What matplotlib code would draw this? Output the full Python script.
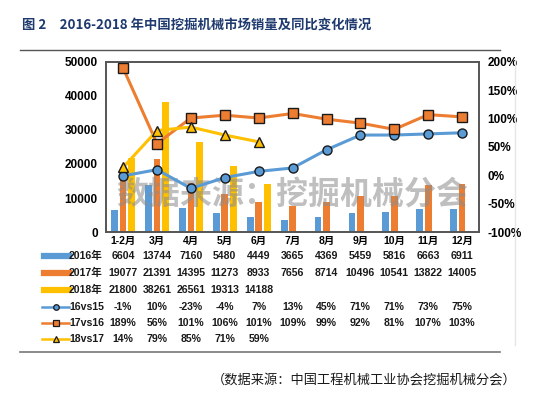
import matplotlib.pyplot as plt
from matplotlib.lines import Line2D
import numpy as np

plt.rcParams['font.family'] = ['Noto Sans CJK SC', 'DejaVu Sans']
num_font = ['Liberation Sans', 'Noto Sans CJK SC']

months = ['1-2月', '3月', '4月', '5月', '6月', '7月', '8月', '9月', '10月', '11月', '12月']
sales_2016 = [6604, 13744, 7160, 5480, 4449, 3665, 4369, 5459, 5816, 6663, 6911]
sales_2017 = [19077, 21391, 14395, 11273, 8933, 7656, 8714, 10496, 10541, 13822, 14005]
sales_2018 = [21800, 38261, 26561, 19313, 14188]
yoy_16vs15 = [-1, 10, -23, -4, 7, 13, 45, 71, 71, 73, 75]
yoy_17vs16 = [189, 56, 101, 106, 101, 109, 99, 92, 81, 107, 103]
yoy_18vs17 = [14, 79, 85, 71, 59]

c16 = '#5B9BD5'
c17 = '#ED7D31'
c18 = '#FFC000'

fig = plt.figure(figsize=(5.5, 3.94), dpi=100)
ax = fig.add_axes([0.193, 0.411, 0.678, 0.432])
ax2 = ax.twinx()

x = np.arange(len(months))
w = 0.2
ax.bar(x - 0.25, sales_2016, w, color=c16, zorder=1)
ax.bar(x, sales_2017, w, color=c17, zorder=1)
ax.bar(np.arange(len(sales_2018)) + 0.25, sales_2018, w, color=c18, zorder=1)
ax.set_ylim(0, 50000)
ax.set_yticks(range(0, 50001, 10000))
ax.set_yticklabels([str(v) for v in range(0, 50001, 10000)], fontsize=8.5, fontweight='bold', family=num_font)
ax.set_xlim(-0.5, len(months) - 0.5)
ax.set_xticks(x)
ax.set_xticklabels(months, fontsize=7.5, fontweight='bold', family=num_font)
ax.tick_params(length=0)
ax.tick_params(axis='y', pad=6)
ax.tick_params(axis='x', pad=3)

ax2.plot(x, yoy_16vs15, color=c16, lw=2.2, marker='o', ms=6.5, mfc=c16, mec='#1a1a1a', mew=1, zorder=5)
ax2.plot(x, yoy_17vs16, color=c17, lw=2.2, marker='s', ms=6.5, mfc=c17, mec='#1a1a1a', mew=1, zorder=5)
ax2.plot(np.arange(len(yoy_18vs17)), yoy_18vs17, color=c18, lw=2.2, marker='^', ms=6.5, mfc=c18, mec='#1a1a1a', mew=1, zorder=5)
ax2.set_ylim(-100, 200)
ax2.set_yticks(range(-100, 201, 50))
ax2.set_yticklabels([f'{v}%' for v in range(-100, 201, 50)], fontsize=8.5, fontweight='bold', family=num_font)
ax2.tick_params(length=0, pad=6)

for a in (ax, ax2):
    for s in a.spines.values():
        s.set_color('#555555')
        s.set_linewidth(1.2)

# watermark
ax2.text(0.5, 0.22, '数据来源：挖掘机械分会', transform=ax2.transAxes, ha='center', va='center',
         fontsize=23, fontweight='bold', color='#8c8c8c', alpha=0.55, zorder=3)

# data table
trans = ax.get_xaxis_transform()
rows = [
    ('2016年', sales_2016, 'bar', c16, None, False),
    ('2017年', sales_2017, 'bar', c17, None, False),
    ('2018年', sales_2018, 'bar', c18, None, False),
    ('16vs15', yoy_16vs15, 'line', c16, 'o', True),
    ('17vs16', yoy_17vs16, 'line', c17, 's', True),
    ('18vs17', yoy_18vs17, 'line', c18, '^', True),
]
row_y = [-0.141, -0.241, -0.341, -0.441, -0.535, -0.629]
for (name, vals, kind, col, mk, pct), yy in zip(rows, row_y):
    for i, v in enumerate(vals):
        ax.text(i, yy, f'{v}%' if pct else f'{v}', transform=trans, ha='center', va='center',
                fontsize=7.6, fontweight='bold', color='#1a1a1a', family=num_font)
    fy = 0.411 + 0.432 * yy
    if kind == 'bar':
        fig.add_artist(Line2D([44 / 550, 69 / 550], [fy, fy], color=col, lw=4.5,
                              transform=fig.transFigure))
    else:
        fig.add_artist(Line2D([42 / 550, 69 / 550], [fy, fy], color=col, lw=1.8,
                              transform=fig.transFigure))
        fig.add_artist(Line2D([55.5 / 550], [fy], marker=mk, ms=4, mfc=col, mec='#1a1a1a', mew=0.9,
                              transform=fig.transFigure))
    fig.text(69 / 550, fy, name, ha='left', va='center', fontsize=7.6, fontweight='bold', color='#1a1a1a',
             family=num_font)

# title and frame lines
fig.text(22 / 550, 1 - 25 / 394, '图 2　2016-2018 年中国挖掘机械市场销量及同比变化情况', ha='left', va='center',
         fontsize=9.6, fontweight='bold', color='#1F3A6E')
fig.add_artist(Line2D([20 / 550, 500 / 550], [1 - 50 / 394, 1 - 50 / 394], color='#555555', lw=1,
                      transform=fig.transFigure))
fig.add_artist(Line2D([20 / 550, 500 / 550], [1 - 352 / 394, 1 - 352 / 394], color='#777777', lw=1.2,
                      transform=fig.transFigure))
fig.add_artist(Line2D([515 / 550, 515 / 550], [1 - 60 / 394, 1 - 345 / 394], color='#e6e6e6', lw=1,
                      transform=fig.transFigure))
fig.text(517 / 550, 1 - 380 / 394, '（数据来源：中国工程机械工业协会挖掘机械分会）', ha='right', va='center',
         fontsize=9.5, color='#1a1a1a')

fig.savefig('out.png', dpi=100)
